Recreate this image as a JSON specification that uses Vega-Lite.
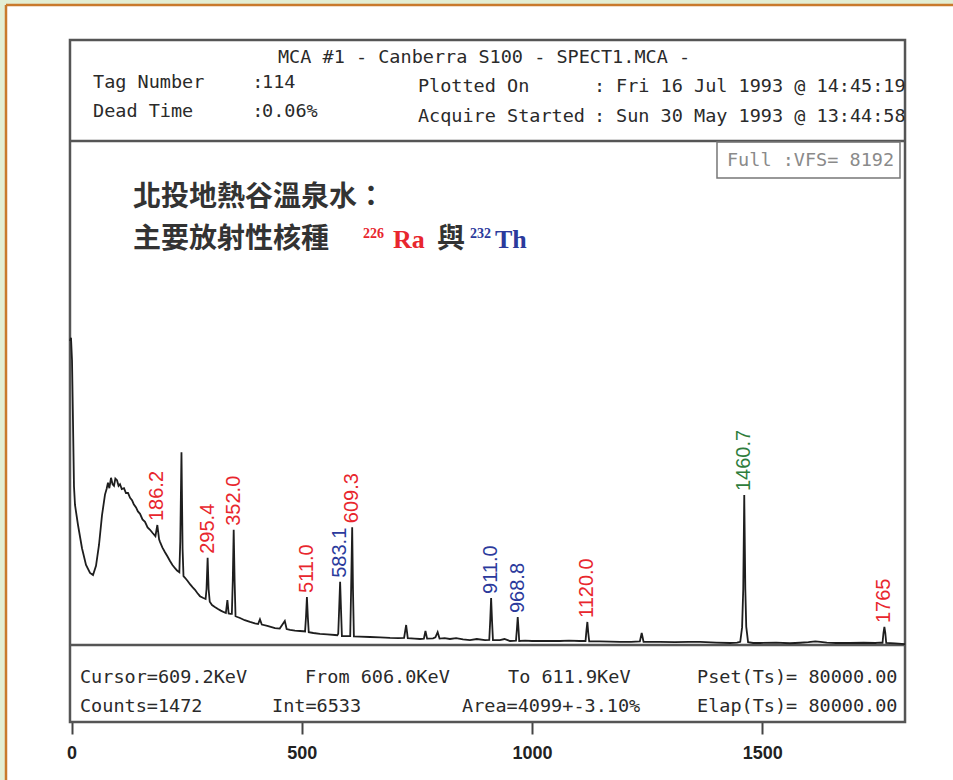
{
  "$schema": "https://vega.github.io/schema/vega-lite/v6.json",
  "width": 947,
  "height": 775,
  "autosize": {"type": "none"},
  "padding": {"left": 6, "top": 5, "right": 0, "bottom": 0},
  "background": "#e3eed3",
  "config": {"view": {"stroke": "transparent", "strokeWidth": 0, "fill": "#ffffff"}},
  "datasets": {
    "spectrum": [
      {"keV": -3.5, "counts": 3800}, {"keV": -1.3, "counts": 3840}, {"keV": 0.9, "counts": 3560}, {"keV": 3.0, "counts": 2800},
      {"keV": 5.2, "counts": 1980}, {"keV": 7.4, "counts": 1750}, {"keV": 13.9, "counts": 1500}, {"keV": 22.6, "counts": 1210},
      {"keV": 31.3, "counts": 1000}, {"keV": 40.0, "counts": 900}, {"keV": 46.5, "counts": 875}, {"keV": 53.0, "counts": 990},
      {"keV": 59.5, "counts": 1250}, {"keV": 66.0, "counts": 1620}, {"keV": 72.5, "counts": 1880}, {"keV": 76, "counts": 1950},
      {"keV": 79.0, "counts": 2030}, {"keV": 82, "counts": 1960}, {"keV": 85.6, "counts": 2090}, {"keV": 89, "counts": 2010},
      {"keV": 92.1, "counts": 1990}, {"keV": 95, "counts": 2080}, {"keV": 98.6, "counts": 2060}, {"keV": 102, "counts": 1990},
      {"keV": 105.1, "counts": 2010}, {"keV": 109, "counts": 1950}, {"keV": 113.8, "counts": 1960}, {"keV": 118, "counts": 1900},
      {"keV": 122.5, "counts": 1900}, {"keV": 127, "counts": 1840}, {"keV": 131.2, "counts": 1810}, {"keV": 135, "counts": 1760},
      {"keV": 139.9, "counts": 1720}, {"keV": 144, "counts": 1670}, {"keV": 148.6, "counts": 1640}, {"keV": 154, "counts": 1570},
      {"keV": 159.4, "counts": 1540}, {"keV": 165, "counts": 1470}, {"keV": 170.3, "counts": 1440}, {"keV": 176, "counts": 1400},
      {"keV": 182, "counts": 1360}, {"keV": 186.2, "counts": 1500}, {"keV": 190, "counts": 1320}, {"keV": 192, "counts": 1290},
      {"keV": 197, "counts": 1220}, {"keV": 202.8, "counts": 1160}, {"keV": 208, "counts": 1110}, {"keV": 213.7, "counts": 1050},
      {"keV": 219, "counts": 1000}, {"keV": 224.5, "counts": 960}, {"keV": 229, "counts": 930}, {"keV": 234, "counts": 910},
      {"keV": 236, "counts": 1300}, {"keV": 238.6, "counts": 2410}, {"keV": 241, "counts": 1200}, {"keV": 243, "counts": 860},
      {"keV": 246.3, "counts": 840}, {"keV": 252, "counts": 800}, {"keV": 257.1, "counts": 760}, {"keV": 263, "counts": 720},
      {"keV": 268, "counts": 690}, {"keV": 273, "counts": 650}, {"keV": 278.8, "counts": 610}, {"keV": 285, "counts": 590},
      {"keV": 291, "counts": 575}, {"keV": 293, "counts": 700}, {"keV": 295.4, "counts": 1090}, {"keV": 297.5, "counts": 700},
      {"keV": 300, "counts": 540}, {"keV": 304.9, "counts": 500}, {"keV": 311, "counts": 475}, {"keV": 317.9, "counts": 450},
      {"keV": 324, "counts": 430}, {"keV": 330.9, "counts": 410}, {"keV": 335, "counts": 400}, {"keV": 338.3, "counts": 560},
      {"keV": 341, "counts": 395}, {"keV": 345, "counts": 390}, {"keV": 348, "counts": 390}, {"keV": 350, "counts": 800},
      {"keV": 352, "counts": 1440}, {"keV": 354, "counts": 800}, {"keV": 356, "counts": 360}, {"keV": 360, "counts": 350},
      {"keV": 365.7, "counts": 338}, {"keV": 376, "counts": 310}, {"keV": 387.4, "counts": 288}, {"keV": 398, "counts": 270},
      {"keV": 405, "counts": 262}, {"keV": 409, "counts": 320}, {"keV": 413, "counts": 255}, {"keV": 425, "counts": 240},
      {"keV": 441.7, "counts": 212}, {"keV": 452, "counts": 205}, {"keV": 463, "counts": 300}, {"keV": 467, "counts": 200},
      {"keV": 474.3, "counts": 188}, {"keV": 485, "counts": 180}, {"keV": 496, "counts": 175}, {"keV": 503, "counts": 172},
      {"keV": 507, "counts": 170}, {"keV": 509, "counts": 350}, {"keV": 511, "counts": 600}, {"keV": 513, "counts": 350},
      {"keV": 515, "counts": 160}, {"keV": 525, "counts": 150}, {"keV": 539.3, "counts": 138}, {"keV": 555, "counts": 132},
      {"keV": 571.9, "counts": 125}, {"keV": 577, "counts": 122}, {"keV": 579, "counts": 140}, {"keV": 581, "counts": 450},
      {"keV": 583.1, "counts": 790}, {"keV": 585, "counts": 450}, {"keV": 587, "counts": 112}, {"keV": 593.7, "counts": 112},
      {"keV": 600, "counts": 110}, {"keV": 605, "counts": 112}, {"keV": 607, "counts": 700}, {"keV": 609.3, "counts": 1472},
      {"keV": 611, "counts": 700}, {"keV": 613, "counts": 108}, {"keV": 625, "counts": 105}, {"keV": 648, "counts": 100},
      {"keV": 670, "counts": 95}, {"keV": 691.5, "counts": 88}, {"keV": 710, "counts": 85}, {"keV": 722, "counts": 90},
      {"keV": 726.5, "counts": 250}, {"keV": 730, "counts": 85}, {"keV": 745, "counts": 80}, {"keV": 756.6, "counts": 75},
      {"keV": 765, "counts": 80}, {"keV": 768.4, "counts": 175}, {"keV": 772, "counts": 80}, {"keV": 785, "counts": 82},
      {"keV": 790, "counts": 95}, {"keV": 794.9, "counts": 160}, {"keV": 799, "counts": 80}, {"keV": 810, "counts": 85},
      {"keV": 821.5, "counts": 75}, {"keV": 835, "counts": 85}, {"keV": 850, "counts": 70}, {"keV": 865, "counts": 62},
      {"keV": 880, "counts": 75}, {"keV": 897.7, "counts": 62}, {"keV": 907, "counts": 65}, {"keV": 909, "counts": 300},
      {"keV": 911, "counts": 588}, {"keV": 913, "counts": 300}, {"keV": 915, "counts": 60}, {"keV": 930, "counts": 62},
      {"keV": 940, "counts": 75}, {"keV": 952, "counts": 50}, {"keV": 965, "counts": 55}, {"keV": 967, "counts": 200},
      {"keV": 968.8, "counts": 350}, {"keV": 970.5, "counts": 200}, {"keV": 972, "counts": 50}, {"keV": 985, "counts": 55},
      {"keV": 1000, "counts": 50}, {"keV": 1030, "counts": 50}, {"keV": 1060, "counts": 50}, {"keV": 1080, "counts": 55},
      {"keV": 1103, "counts": 50}, {"keV": 1116, "counts": 50}, {"keV": 1118, "counts": 180}, {"keV": 1120, "counts": 288},
      {"keV": 1122, "counts": 150}, {"keV": 1124, "counts": 45}, {"keV": 1147, "counts": 45}, {"keV": 1170, "counts": 42},
      {"keV": 1191, "counts": 38}, {"keV": 1215, "counts": 40}, {"keV": 1234, "counts": 45}, {"keV": 1238, "counts": 150},
      {"keV": 1242, "counts": 40}, {"keV": 1260, "counts": 38}, {"keV": 1278, "counts": 38}, {"keV": 1310, "counts": 35},
      {"keV": 1340, "counts": 40}, {"keV": 1365, "counts": 38}, {"keV": 1400, "counts": 30}, {"keV": 1430, "counts": 25},
      {"keV": 1445, "counts": 30}, {"keV": 1452, "counts": 40}, {"keV": 1456, "counts": 220}, {"keV": 1458.5, "counts": 700},
      {"keV": 1460.7, "counts": 1875}, {"keV": 1463, "counts": 700}, {"keV": 1465, "counts": 230}, {"keV": 1469, "counts": 35},
      {"keV": 1480, "counts": 25}, {"keV": 1495, "counts": 25}, {"keV": 1530, "counts": 30}, {"keV": 1560, "counts": 22},
      {"keV": 1582, "counts": 28}, {"keV": 1600, "counts": 35}, {"keV": 1615, "counts": 45}, {"keV": 1626, "counts": 40},
      {"keV": 1640, "counts": 30}, {"keV": 1660, "counts": 25}, {"keV": 1690, "counts": 25}, {"keV": 1720, "counts": 28},
      {"keV": 1745, "counts": 25}, {"keV": 1755, "counts": 30}, {"keV": 1761, "counts": 28}, {"keV": 1763, "counts": 150},
      {"keV": 1765, "counts": 225}, {"keV": 1767, "counts": 150}, {"keV": 1769, "counts": 25}, {"keV": 1788, "counts": 20},
      {"keV": 1810, "counts": 12}
    ],
    "peaks": [
      {"keV": 186.2, "counts": 1500, "label": "186.2", "group": "Ra-226"},
      {"keV": 295.4, "counts": 1090, "label": "295.4", "group": "Ra-226"},
      {"keV": 352.0, "counts": 1440, "label": "352.0", "group": "Ra-226"},
      {"keV": 511.0, "counts": 600, "label": "511.0", "group": "Ra-226"},
      {"keV": 583.1, "counts": 790, "label": "583.1", "group": "Th-232"},
      {"keV": 609.3, "counts": 1472, "label": "609.3", "group": "Ra-226"},
      {"keV": 911.0, "counts": 588, "label": "911.0", "group": "Th-232"},
      {"keV": 968.8, "counts": 350, "label": "968.8", "group": "Th-232"},
      {"keV": 1120.0, "counts": 288, "label": "1120.0", "group": "Ra-226"},
      {"keV": 1460.7, "counts": 1875, "label": "1460.7", "group": "K-40"},
      {"keV": 1765, "counts": 225, "label": "1765", "group": "Ra-226"}
    ],
    "monoText": [
      {"keV": 46.5, "counts": 7037.5, "text": "Tag Number"},
      {"keV": 392.3, "counts": 7037.5, "text": ":"},
      {"keV": 413.5, "counts": 7037.5, "text": "114"},
      {"keV": 46.5, "counts": 6675, "text": "Dead Time"},
      {"keV": 392.3, "counts": 6675, "text": ":"},
      {"keV": 413.5, "counts": 6675, "text": "0.06%"},
      {"keV": 752.0, "counts": 6987.5, "text": "Plotted On"},
      {"keV": 1134.4, "counts": 6987.5, "text": ":"},
      {"keV": 1182.3, "counts": 6987.5, "text": "Fri 16 Jul 1993 @ 14:45:19"},
      {"keV": 752.0, "counts": 6612.5, "text": "Acquire Started"},
      {"keV": 1134.4, "counts": 6612.5, "text": ":"},
      {"keV": 1182.3, "counts": 6612.5, "text": "Sun 30 May 1993 @ 13:44:58"},
      {"keV": 18.2, "counts": -400, "text": "Cursor=609.2KeV"},
      {"keV": 506.8, "counts": -400, "text": "From 606.0KeV"},
      {"keV": 947.7, "counts": -400, "text": "To 611.9KeV"},
      {"keV": 1358.1, "counts": -400, "text": "Pset(Ts)= 80000.00"},
      {"keV": 18.2, "counts": -762.5, "text": "Counts=1472"},
      {"keV": 435.2, "counts": -762.5, "text": "Int=6533"},
      {"keV": 847.8, "counts": -762.5, "text": "Area=4099+-3.10%"},
      {"keV": 1358.1, "counts": -762.5, "text": "Elap(Ts)= 80000.00"}
    ],
    "chinese": [
      {"keV": 133.3, "counts": 5587.5, "text": "北投地熱谷溫泉水："},
      {"keV": 133.3, "counts": 5062.5, "text": "主要放射性核種"},
      {"keV": 793.5, "counts": 5062.5, "text": "與"}
    ],
    "isotopeMass": [
      {"keV": 632.8, "counts": 5137.5, "text": "226", "group": "Ra-226"},
      {"keV": 865.2, "counts": 5137.5, "text": "232", "group": "Th-232"}
    ],
    "isotopeSymbol": [
      {"keV": 697.9, "counts": 5062.5, "text": "Ra", "group": "Ra-226"},
      {"keV": 919.4, "counts": 5062.5, "text": "Th", "group": "Th-232"}
    ]
  },
  "encoding": {
    "x": {
      "field": "keV", "type": "quantitative",
      "scale": {"domain": [-142.45, 1914.0], "nice": false, "zero": false},
      "axis": {
        "values": [0, 500, 1000, 1500], "format": "d", "offset": -58, "domain": false, "grid": false,
        "tickSize": 12, "tickWidth": 2, "tickColor": "#444444",
        "labelFont": "Liberation Sans", "labelFontSize": 18, "labelFontWeight": "bold",
        "labelColor": "#222222", "labelPadding": 10, "labelFlush": false, "title": null
      }
    },
    "y": {
      "field": "counts", "type": "quantitative",
      "scale": {"domain": [-1687.5, 8000], "nice": false, "zero": false},
      "axis": null
    }
  },
  "layer": [
    {
      "data": {"values": [{"keV": -142.45, "keV2": 1914.0, "counts": 8000}]},
      "mark": {"type": "rule", "color": "#c97a2c", "strokeWidth": 2.5},
      "encoding": {"x2": {"field": "keV2"}}
    },
    {
      "data": {"values": [{"keV": -142.45, "counts": -1687.5, "counts2": 8000}]},
      "mark": {"type": "rule", "color": "#c97a2c", "strokeWidth": 2.5},
      "encoding": {"y2": {"field": "counts2"}}
    },
    {
      "data": {"values": [{"keV": -3.5, "keV2": 1809.8, "counts": -962.5, "counts2": 7562.5}]},
      "mark": {"type": "rect", "filled": false, "stroke": "#555555", "strokeWidth": 2.5},
      "encoding": {"x2": {"field": "keV2"}, "y2": {"field": "counts2"}}
    },
    {
      "data": {"values": [
        {"keV": -3.5, "keV2": 1809.8, "counts": 6300},
        {"keV": -3.5, "keV2": 1809.8, "counts": 0}
      ]},
      "mark": {"type": "rule", "color": "#555555", "strokeWidth": 2.5},
      "encoding": {"x2": {"field": "keV2"}}
    },
    {
      "data": {"values": [{"keV": 1401.5, "keV2": 1798.9, "counts": 5837.5, "counts2": 6287.5}]},
      "mark": {"type": "rect", "filled": false, "stroke": "#777777", "strokeWidth": 1.5},
      "encoding": {"x2": {"field": "keV2"}, "y2": {"field": "counts2"}}
    },
    {
      "data": {"values": [{"keV": 1423.2, "counts": 6062.5, "text": "Full :VFS= 8192"}]},
      "mark": {"type": "text", "align": "left", "baseline": "middle", "font": "DejaVu Sans Mono", "fontSize": 18.5, "color": "#8a8a8a"},
      "encoding": {"text": {"field": "text"}}
    },
    {
      "data": {"name": "spectrum"},
      "mark": {"type": "line", "color": "#1e1e1e", "strokeWidth": 1.8},
      "encoding": {}
    },
    {
      "data": {"name": "peaks"},
      "mark": {"type": "text", "angle": 270, "align": "left", "baseline": "middle", "dx": 4, "font": "Liberation Sans", "fontSize": 20},
      "encoding": {
        "text": {"field": "label"},
        "color": {"field": "group", "type": "nominal", "scale": {"domain": ["Ra-226", "Th-232", "K-40"], "range": ["#e8262d", "#2b3a9c", "#2e7d3c"]}, "legend": null}
      }
    },
    {
      "data": {"name": "monoText"},
      "mark": {"type": "text", "align": "left", "baseline": "middle", "font": "DejaVu Sans Mono", "fontSize": 18.5, "color": "#2a2a2a"},
      "encoding": {"text": {"field": "text"}}
    },
    {
      "data": {"values": [{"keV": 895.6, "counts": 7350, "text": "MCA #1 - Canberra S100 - SPECT1.MCA -"}]},
      "mark": {"type": "text", "align": "center", "baseline": "middle", "font": "DejaVu Sans Mono", "fontSize": 18.5, "color": "#2a2a2a"},
      "encoding": {"text": {"field": "text"}}
    },
    {
      "data": {"name": "chinese"},
      "mark": {"type": "text", "align": "left", "baseline": "middle", "font": "Noto Sans CJK TC", "fontSize": 28, "fontWeight": "bold", "color": "#333333"},
      "encoding": {"text": {"field": "text"}}
    },
    {
      "data": {"name": "isotopeMass"},
      "mark": {"type": "text", "align": "left", "baseline": "middle", "font": "Liberation Serif", "fontSize": 14, "fontWeight": "bold"},
      "encoding": {"text": {"field": "text"}, "color": {"field": "group", "type": "nominal", "legend": null}}
    },
    {
      "data": {"name": "isotopeSymbol"},
      "mark": {"type": "text", "align": "left", "baseline": "middle", "font": "Liberation Serif", "fontSize": 26, "fontWeight": "bold"},
      "encoding": {"text": {"field": "text"}, "color": {"field": "group", "type": "nominal", "legend": null}}
    }
  ]
}
